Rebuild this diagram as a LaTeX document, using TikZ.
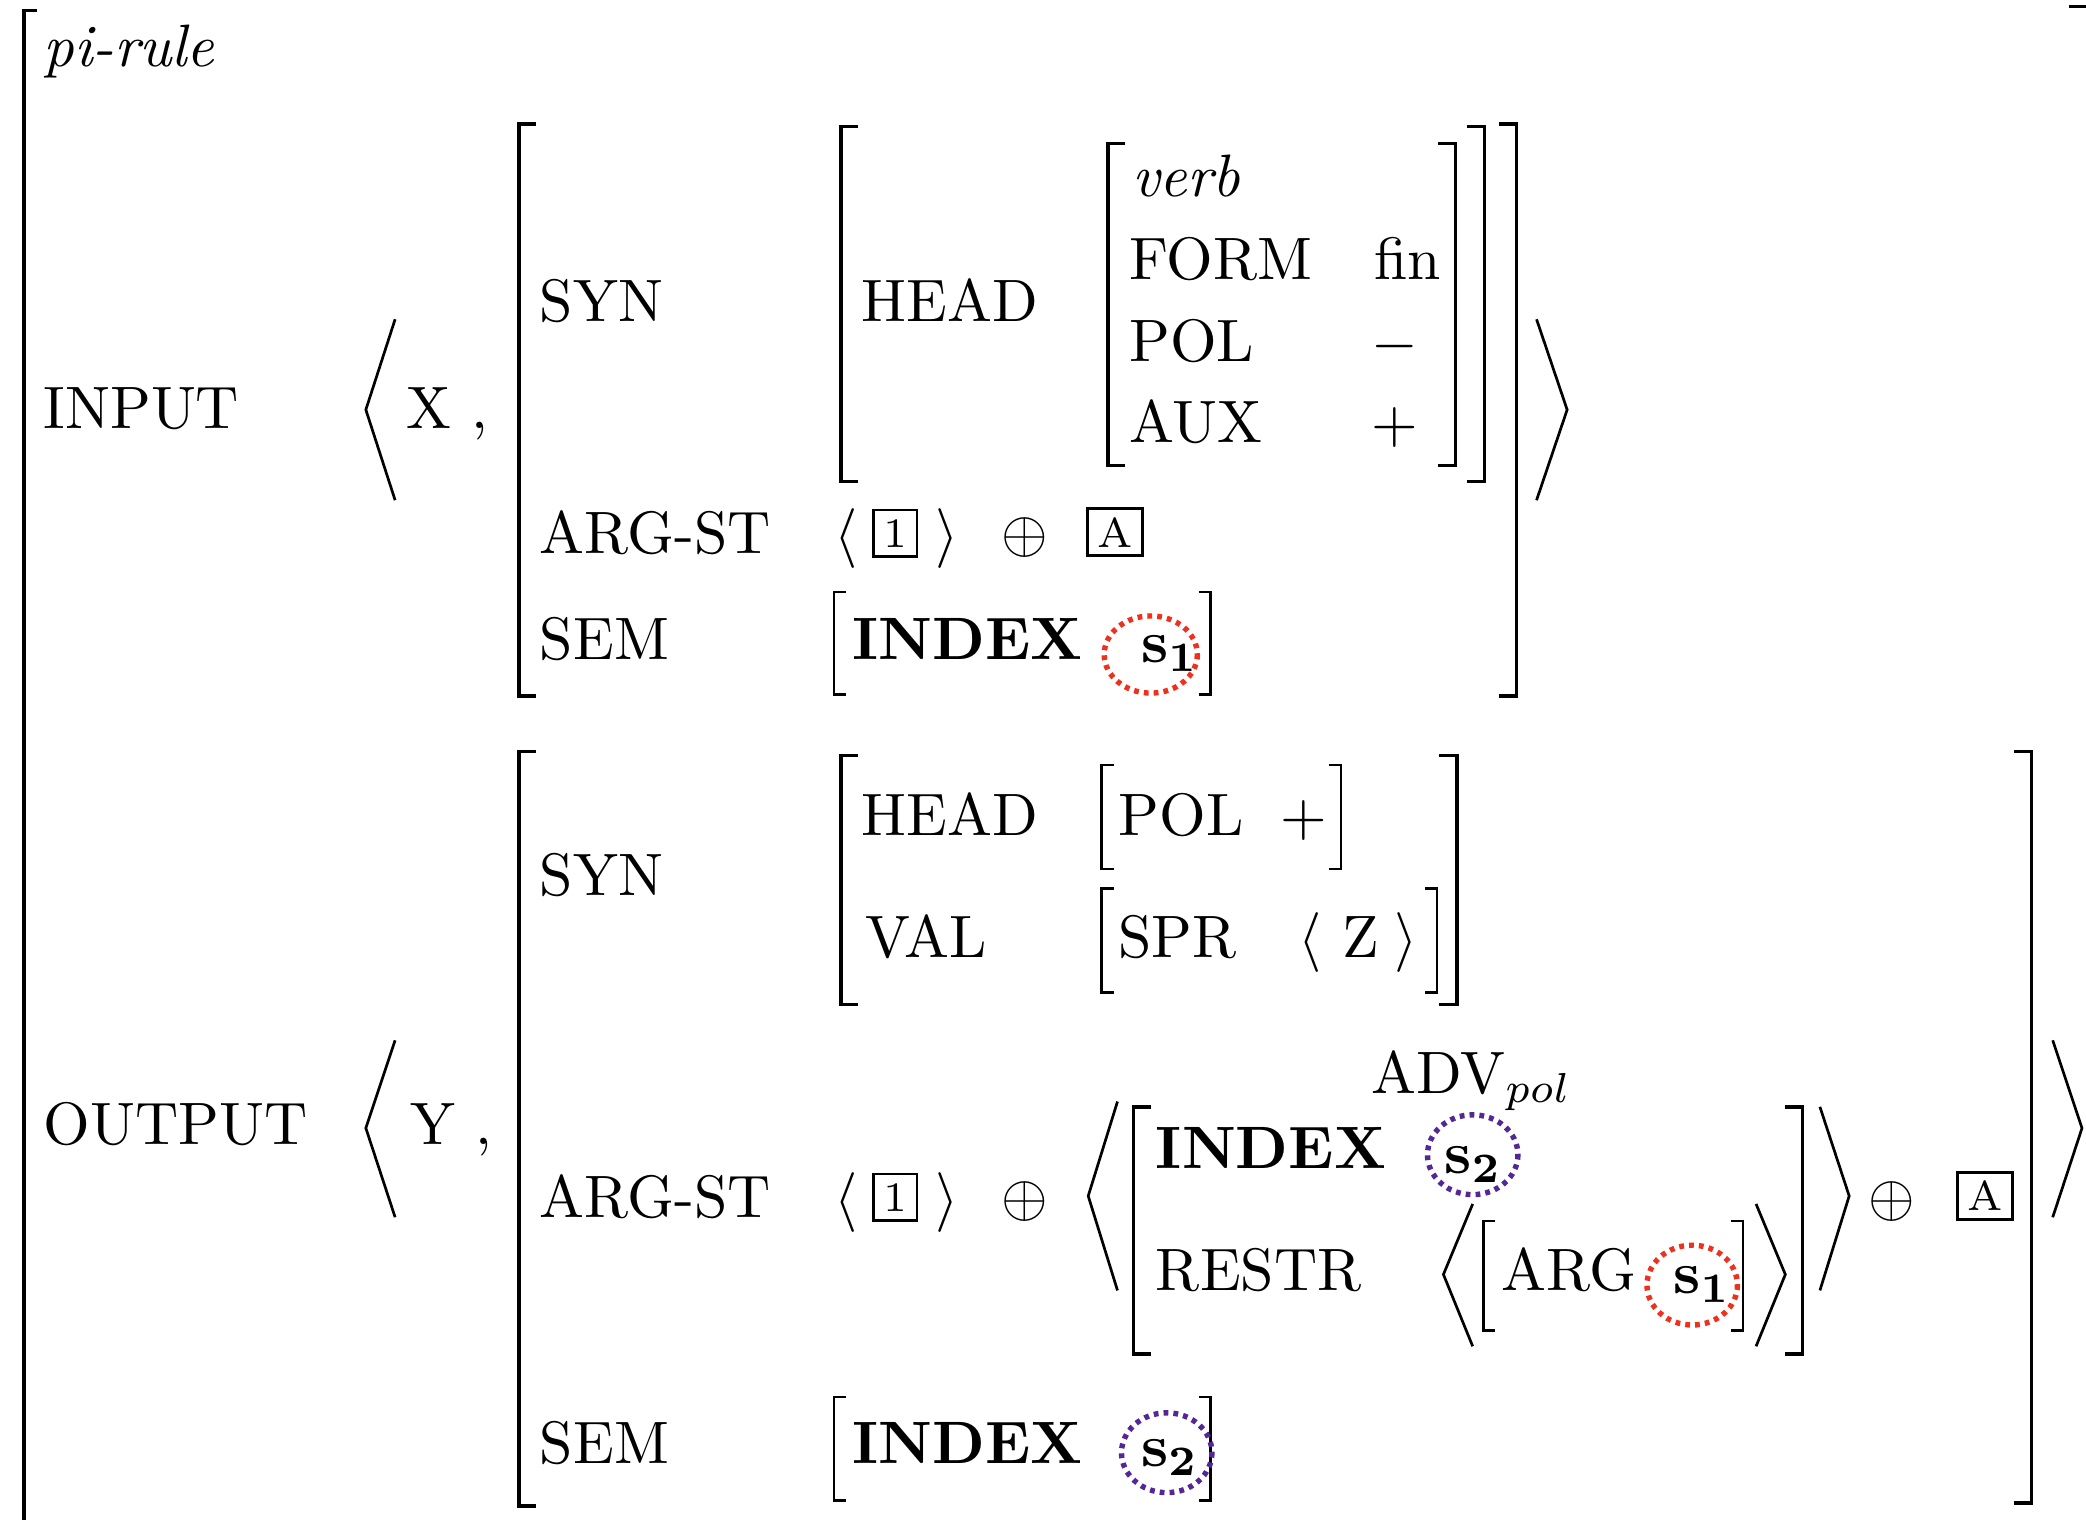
\documentclass[tikz,border=0pt]{standalone}
\usepackage{amsmath,tikz}
\definecolor{ringred}{RGB}{238,48,28}
\definecolor{ringpurple}{RGB}{84,38,150}

\begin{document}
\begin{tikzpicture}[x=0.2222pt,y=-0.2222pt,
	txt/.style={inner sep=0pt,anchor=base west},
	bigbrack/.style={line width=0.6pt},
	smallbrack/.style={line width=0.4pt},
	chev/.style={line width=0.45pt},
	tagbox/.style={draw,line width=0.45pt,inner sep=0pt,minimum height=7.8pt,font=\scriptsize},
	redring/.style={draw=ringred,line width=0.9pt,dash pattern=on 0.8pt off 0.85pt},
	purplering/.style={draw=ringpurple,line width=0.9pt,dash pattern=on 0.8pt off 0.85pt}]
	\useasboundingbox (0,0) rectangle (1568,1142);
	% outer frame
	\draw[bigbrack] (28,8) -| (18,1160);
	\draw[bigbrack] (1555,5) -- (1572,5);
	\node[txt] (kind) at (32,50) {\textit{pi-rule}};

	% input
	\node[txt] (input) at (32,322) {INPUT};
	\draw[chev] (297,240) -- (275,308) -- (297,376);
	\node[txt] (xvar) at (305,322) {X ,};
	\draw[bigbrack] (403,93) -| (390,523) -- (403,523);
	\draw[bigbrack] (1127,93) -| (1140,523) -- (1127,523);
	\draw[chev] (1155,240) -- (1178,308) -- (1155,376);
	\node[txt] (syn1) at (405,242) {SYN};
	\draw[bigbrack] (645,95) -| (632,362) -- (645,362);
	\draw[bigbrack] (1103,95) -| (1116,362) -- (1103,362);
	\node[txt] (head1) at (647,242) {HEAD};
	\draw[bigbrack] (846,108) -| (833,350) -- (846,350);
	\draw[bigbrack] (1081,108) -| (1094,350) -- (1081,350);
	\node[txt] (verb) at (850,148) {\textit{verb}};
	\node[txt] (form) at (848,210) {FORM};
	\node[txt] (fin) at (1032,210) {fin};
	\node[txt] (pol1) at (848,272) {POL};
	\node[txt] (minus) at (1030,272) {$-$};
	\node[txt] (aux) at (848,333) {AUX};
	\node[txt] (plus1) at (1030,333) {$+$};
	\node[txt] (argst1) at (405,416) {ARG-ST};
	\node[txt] (la1) at (626,416) {$\langle$};
	\node[tagbox,minimum width=7.2pt] (tagone1) at (673,401) {1};
	\node[txt] (ra1) at (702,416) {$\rangle$};
	\node (oplus1) at (770,404) {$\oplus$};
	\node[tagbox,minimum width=9.2pt] (taga1) at (838,400) {A};
	\node[txt] (sem1) at (405,496) {SEM};
	\draw[smallbrack] (636,445) -| (627,522) -- (636,522);
	\draw[smallbrack] (901,445) -| (910,522) -- (901,522);
	\node[txt] (index1) at (640,496) {\textbf{INDEX}};
	\node[txt] (sone1) at (857,498) {$\mathbf{s}_{\mathbf{1}}$};
	\draw[redring] (865,492) ellipse [x radius=35,y radius=29];

	% output
	\node[txt] (output) at (32,860) {OUTPUT};
	\draw[chev] (297,782) -- (275,848) -- (297,915);
	\node[txt] (yvar) at (308,860) {Y ,};
	\draw[bigbrack] (403,565) -| (390,1132) -- (403,1132);
	\draw[bigbrack] (1514,565) -| (1527,1130) -- (1514,1130);
	\draw[chev] (1543,782) -- (1565,848) -- (1543,915);
	\node[txt] (syn2) at (405,673) {SYN};
	\draw[bigbrack] (645,568) -| (632,755) -- (645,755);
	\draw[bigbrack] (1082,568) -| (1095,755) -- (1082,755);
	\node[txt] (head2) at (647,628) {HEAD};
	\draw[smallbrack] (837,575) -| (828,653) -- (837,653);
	\draw[smallbrack] (999,575) -| (1008,653) -- (999,653);
	\node[txt] (pol2) at (840,628) {POL};
	\node[txt] (plus2) at (962,628) {$+$};
	\node[txt] (val) at (650,720) {VAL};
	\draw[smallbrack] (837,668) -| (828,746) -- (837,746);
	\draw[smallbrack] (1071,668) -| (1080,746) -- (1071,746);
	\node[txt] (spr) at (840,720) {SPR};
	\node[txt] (la2) at (975,720) {$\langle$};
	\node[txt] (zvar) at (1008,720) {Z};
	\node[txt] (ra2) at (1047,720) {$\rangle$};
	\node[txt] (argst2) at (405,915) {ARG-ST};
	\node[txt] (la3) at (626,915) {$\langle$};
	\node[tagbox,minimum width=7.2pt] (tagone2) at (673,900) {1};
	\node[txt] (ra3) at (702,915) {$\rangle$};
	\node (oplus2) at (770,903) {$\oplus$};
	\draw[chev] (840,828) -- (818,899) -- (840,970);
	\draw[bigbrack] (865,832) -| (852,1018) -- (865,1018);
	\draw[bigbrack] (1342,832) -| (1355,1018) -- (1342,1018);
	\node[txt] (adv) at (1030,822) {ADV$_{pol}$};
	\node[txt] (index2) at (868,878) {\textbf{INDEX}};
	\node[txt] (stwo1) at (1085,882) {$\mathbf{s}_{\mathbf{2}}$};
	\draw[purplering] (1107,868) ellipse [x radius=34,y radius=30];
	\node[txt] (restr) at (868,970) {RESTR};
	\draw[chev] (1107,905) -- (1085,958) -- (1107,1012);
	\draw[smallbrack] (1124,918) -| (1115,1000) -- (1124,1000);
	\draw[smallbrack] (1301,918) -| (1310,1000) -- (1301,1000);
	\node[txt] (arg) at (1128,970) {ARG};
	\node[txt] (sone2) at (1257,972) {$\mathbf{s}_{\mathbf{1}}$};
	\draw[redring] (1272,966) ellipse [x radius=34,y radius=30];
	\draw[chev] (1320,905) -- (1342,958) -- (1320,1012);
	\draw[chev] (1368,832) -- (1390,899) -- (1368,970);
	\node (oplus3) at (1422,903) {$\oplus$};
	\node[tagbox,minimum width=9.2pt] (taga2) at (1492,899) {A};
	\node[txt] (sem2) at (405,1100) {SEM};
	\draw[smallbrack] (636,1050) -| (627,1128) -- (636,1128);
	\draw[smallbrack] (901,1050) -| (910,1128) -- (901,1128);
	\node[txt] (index3) at (640,1100) {\textbf{INDEX}};
	\node[txt] (stwo2) at (857,1102) {$\mathbf{s}_{\mathbf{2}}$};
	\draw[purplering] (877,1092) ellipse [x radius=34,y radius=30];
\end{tikzpicture}
\end{document}
